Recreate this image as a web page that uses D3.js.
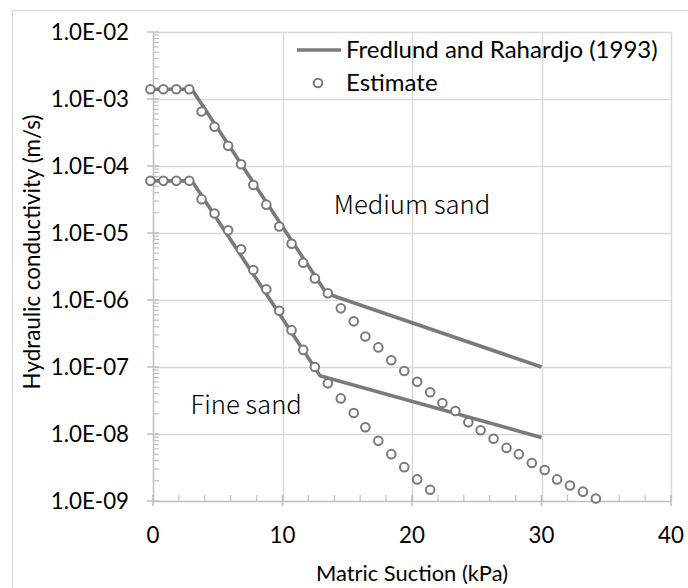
<!DOCTYPE html>
<html><head><meta charset="utf-8">
<script src="https://cdn.jsdelivr.net/npm/d3@7"></script>
<style>body{margin:0;background:#fff}svg{display:block}text{font-family:Lato,"Noto Sans",sans-serif;fill:#000}</style>
</head><body><svg id="c" width="688" height="588"></svg>
<script>
// ---- data ----
const estX = [-0.2,0.8,1.8,2.8,3.75,4.75,5.8,6.8,7.75,8.75,9.75,10.7,11.6,12.5,13.5,14.5,15.5,16.4,17.4,18.4,19.4,20.4,21.4,22.35,23.35,24.35,25.3,26.3,27.3,28.25,29.25,30.25,31.2,32.2,33.2,34.2];
const estMedium = [1.4e-3,1.4e-3,1.4e-3,1.4e-3,6.5e-4,3.85e-4,2.0e-4,1.06e-4,5.2e-5,2.65e-5,1.25e-5,6.9e-6,3.6e-6,2.1e-6,1.26e-6,7.5e-7,4.8e-7,2.85e-7,1.96e-7,1.26e-7,8.7e-8,6.0e-8,4.2e-8,2.9e-8,2.2e-8,1.5e-8,1.14e-8,8.5e-9,6.2e-9,5.0e-9,3.7e-9,2.9e-9,2.1e-9,1.7e-9,1.38e-9,1.09e-9];
const estFine = [6e-5,6e-5,6e-5,6e-5,3.2e-5,1.95e-5,1.1e-5,5.7e-6,2.8e-6,1.45e-6,6.9e-7,3.55e-7,1.8e-7,1.0e-7,5.7e-8,3.4e-8,2.06e-8,1.26e-8,7.9e-9,5.0e-9,3.2e-9,2.1e-9,1.47e-9];
const frMediumX = [0,3,13.4,30];
const frMediumY = [1.4e-3,1.4e-3,1.25e-6,1.0e-7];
const frFineX = [0,3,12.9,30];
const frFineY = [6e-5,6e-5,7.4e-8,8.9e-9];
const xTicks = [0,10,20,30,40];
const yTicks = [1e-2,1e-3,1e-4,1e-5,1e-6,1e-7,1e-8,1e-9];
const yTickLabels = ["1.0E-02","1.0E-03","1.0E-04","1.0E-05","1.0E-06","1.0E-07","1.0E-08","1.0E-09"];
const legendLabels = ["Fredlund and Rahardjo (1993)","Estimate"];
const xTitle = "Matric Suction (kPa)";
const yTitle = "Hydraulic conductivity (m/s)";
const annotations = [{t:"Medium sand",x:20,y:2.6e-5},{t:"Fine sand",x:7.2,y:2.7e-8}];

// ---- layout ----
const svg = d3.select("#c");
const L=153, R=671, T=32, B=501;
const x = d3.scaleLinear().domain([0,40]).range([L,R]);
const y = d3.scaleLog().domain([1e-9,1e-2]).range([B,T]);
const grid="#d9d9d9", axisC="#bfbfbf", lineC="#7a7a7a";

svg.append("rect").attr("x",12.5).attr("y",10.5).attr("width",700).attr("height",700)
  .attr("fill","#fff").attr("stroke","#d9d9d9").attr("stroke-width",1.2);

// gridlines
svg.append("g").selectAll("line").data(yTicks.slice(0,-1)).join("line")
  .attr("x1",L).attr("x2",R).attr("y1",d=>Math.round(y(d))+0.5).attr("y2",d=>Math.round(y(d))+0.5)
  .attr("stroke",grid).attr("stroke-width",1.5);
svg.append("g").selectAll("line").data(xTicks.slice(1)).join("line")
  .attr("x1",d=>Math.round(x(d))+0.5).attr("x2",d=>Math.round(x(d))+0.5).attr("y1",T).attr("y2",B)
  .attr("stroke",grid).attr("stroke-width",1.5);

// y axis with minor ticks
const minor=[];
for(let e=-9;e<-2;e++) for(let m=2;m<=9;m++) minor.push(m*Math.pow(10,e));
const ya = svg.append("g");
ya.append("line").attr("x1",L+0.5).attr("x2",L+0.5).attr("y1",T).attr("y2",B).attr("stroke",axisC).attr("stroke-width",1.5);
ya.selectAll(".mn").data(minor).join("line").attr("class","mn")
  .attr("x1",L).attr("x2",L+6).attr("y1",d=>y(d)).attr("y2",d=>y(d)).attr("stroke",axisC).attr("stroke-width",1.2);
ya.selectAll(".mj").data(yTicks).join("line").attr("class","mj")
  .attr("x1",L-6).attr("x2",L+6).attr("y1",d=>y(d)).attr("y2",d=>y(d)).attr("stroke",axisC).attr("stroke-width",1.5);
ya.selectAll("text").data(yTicks).join("text")
  .attr("x",L-24).attr("y",d=>y(d)).attr("dy","0.35em").attr("text-anchor","end")
  .attr("font-size",22.3).text((d,i)=>yTickLabels[i]);

// x axis
const xa = svg.append("g");
xa.append("line").attr("x1",L).attr("x2",R).attr("y1",B+0.5).attr("y2",B+0.5).attr("stroke",axisC).attr("stroke-width",1.5);
xa.selectAll(".mn").data(d3.range(2,40,2)).join("line").attr("class","mn")
  .attr("x1",d=>x(d)).attr("x2",d=>x(d)).attr("y1",B).attr("y2",B-6).attr("stroke",axisC).attr("stroke-width",1.2);
xa.selectAll(".mj").data(xTicks).join("line").attr("class","mj")
  .attr("x1",d=>x(d)).attr("x2",d=>x(d)).attr("y1",B-6).attr("y2",B+5).attr("stroke",axisC).attr("stroke-width",1.5);
xa.selectAll("text").data(xTicks).join("text")
  .attr("x",d=>x(d)).attr("y",535).attr("dy","0.35em").attr("text-anchor","middle")
  .attr("font-size",22.3).text(d=>d);

// titles
svg.append("text").attr("x",(L+R)/2).attr("y",573).attr("dy","0.35em").attr("text-anchor","middle").attr("font-size",21.9).text(xTitle);
svg.append("text").attr("transform","translate(32,252) rotate(-90)").attr("dy","0.35em").attr("text-anchor","middle").attr("font-size",22.4).text(yTitle);

// lines
const ln = d3.line().x(d=>x(d[0])).y(d=>y(d[1]));
[[frMediumX,frMediumY],[frFineX,frFineY]].forEach(([xs,ys])=>{
  svg.append("path").attr("d",ln(xs.map((v,i)=>[v,ys[i]]))).attr("fill","none")
    .attr("stroke",lineC).attr("stroke-width",3.6).attr("stroke-linejoin","round");
});
// estimates
[estMedium,estFine].forEach(vals=>{
  svg.append("g").selectAll("circle").data(vals).join("circle")
    .attr("cx",(d,i)=>x(estX[i])).attr("cy",d=>y(d)).attr("r",4.3)
    .attr("fill","#fff").attr("stroke",lineC).attr("stroke-width",2);
});

// annotations
svg.append("g").selectAll("text").data(annotations).join("text")
  .attr("x",d=>x(d.x)).attr("y",d=>y(d.y)).attr("dy","0.35em").attr("text-anchor","middle")
  .style("font-family","'Noto Sans CJK JP','Noto Sans',sans-serif").style("font-weight",300)
  .attr("font-size",25.7).text(d=>d.t);

// legend
const lg = svg.append("g");
lg.append("line").attr("x1",297).attr("x2",341).attr("y1",50).attr("y2",50).attr("stroke",lineC).attr("stroke-width",3.6);
lg.append("circle").attr("cx",318).attr("cy",83).attr("r",4.3).attr("fill","#fff").attr("stroke",lineC).attr("stroke-width",2);
lg.selectAll("text").data(legendLabels).join("text").attr("x",346).attr("y",(d,i)=>50+i*33).attr("dy","0.35em")
  .attr("font-size",24).text(d=>d);
</script></body></html>
